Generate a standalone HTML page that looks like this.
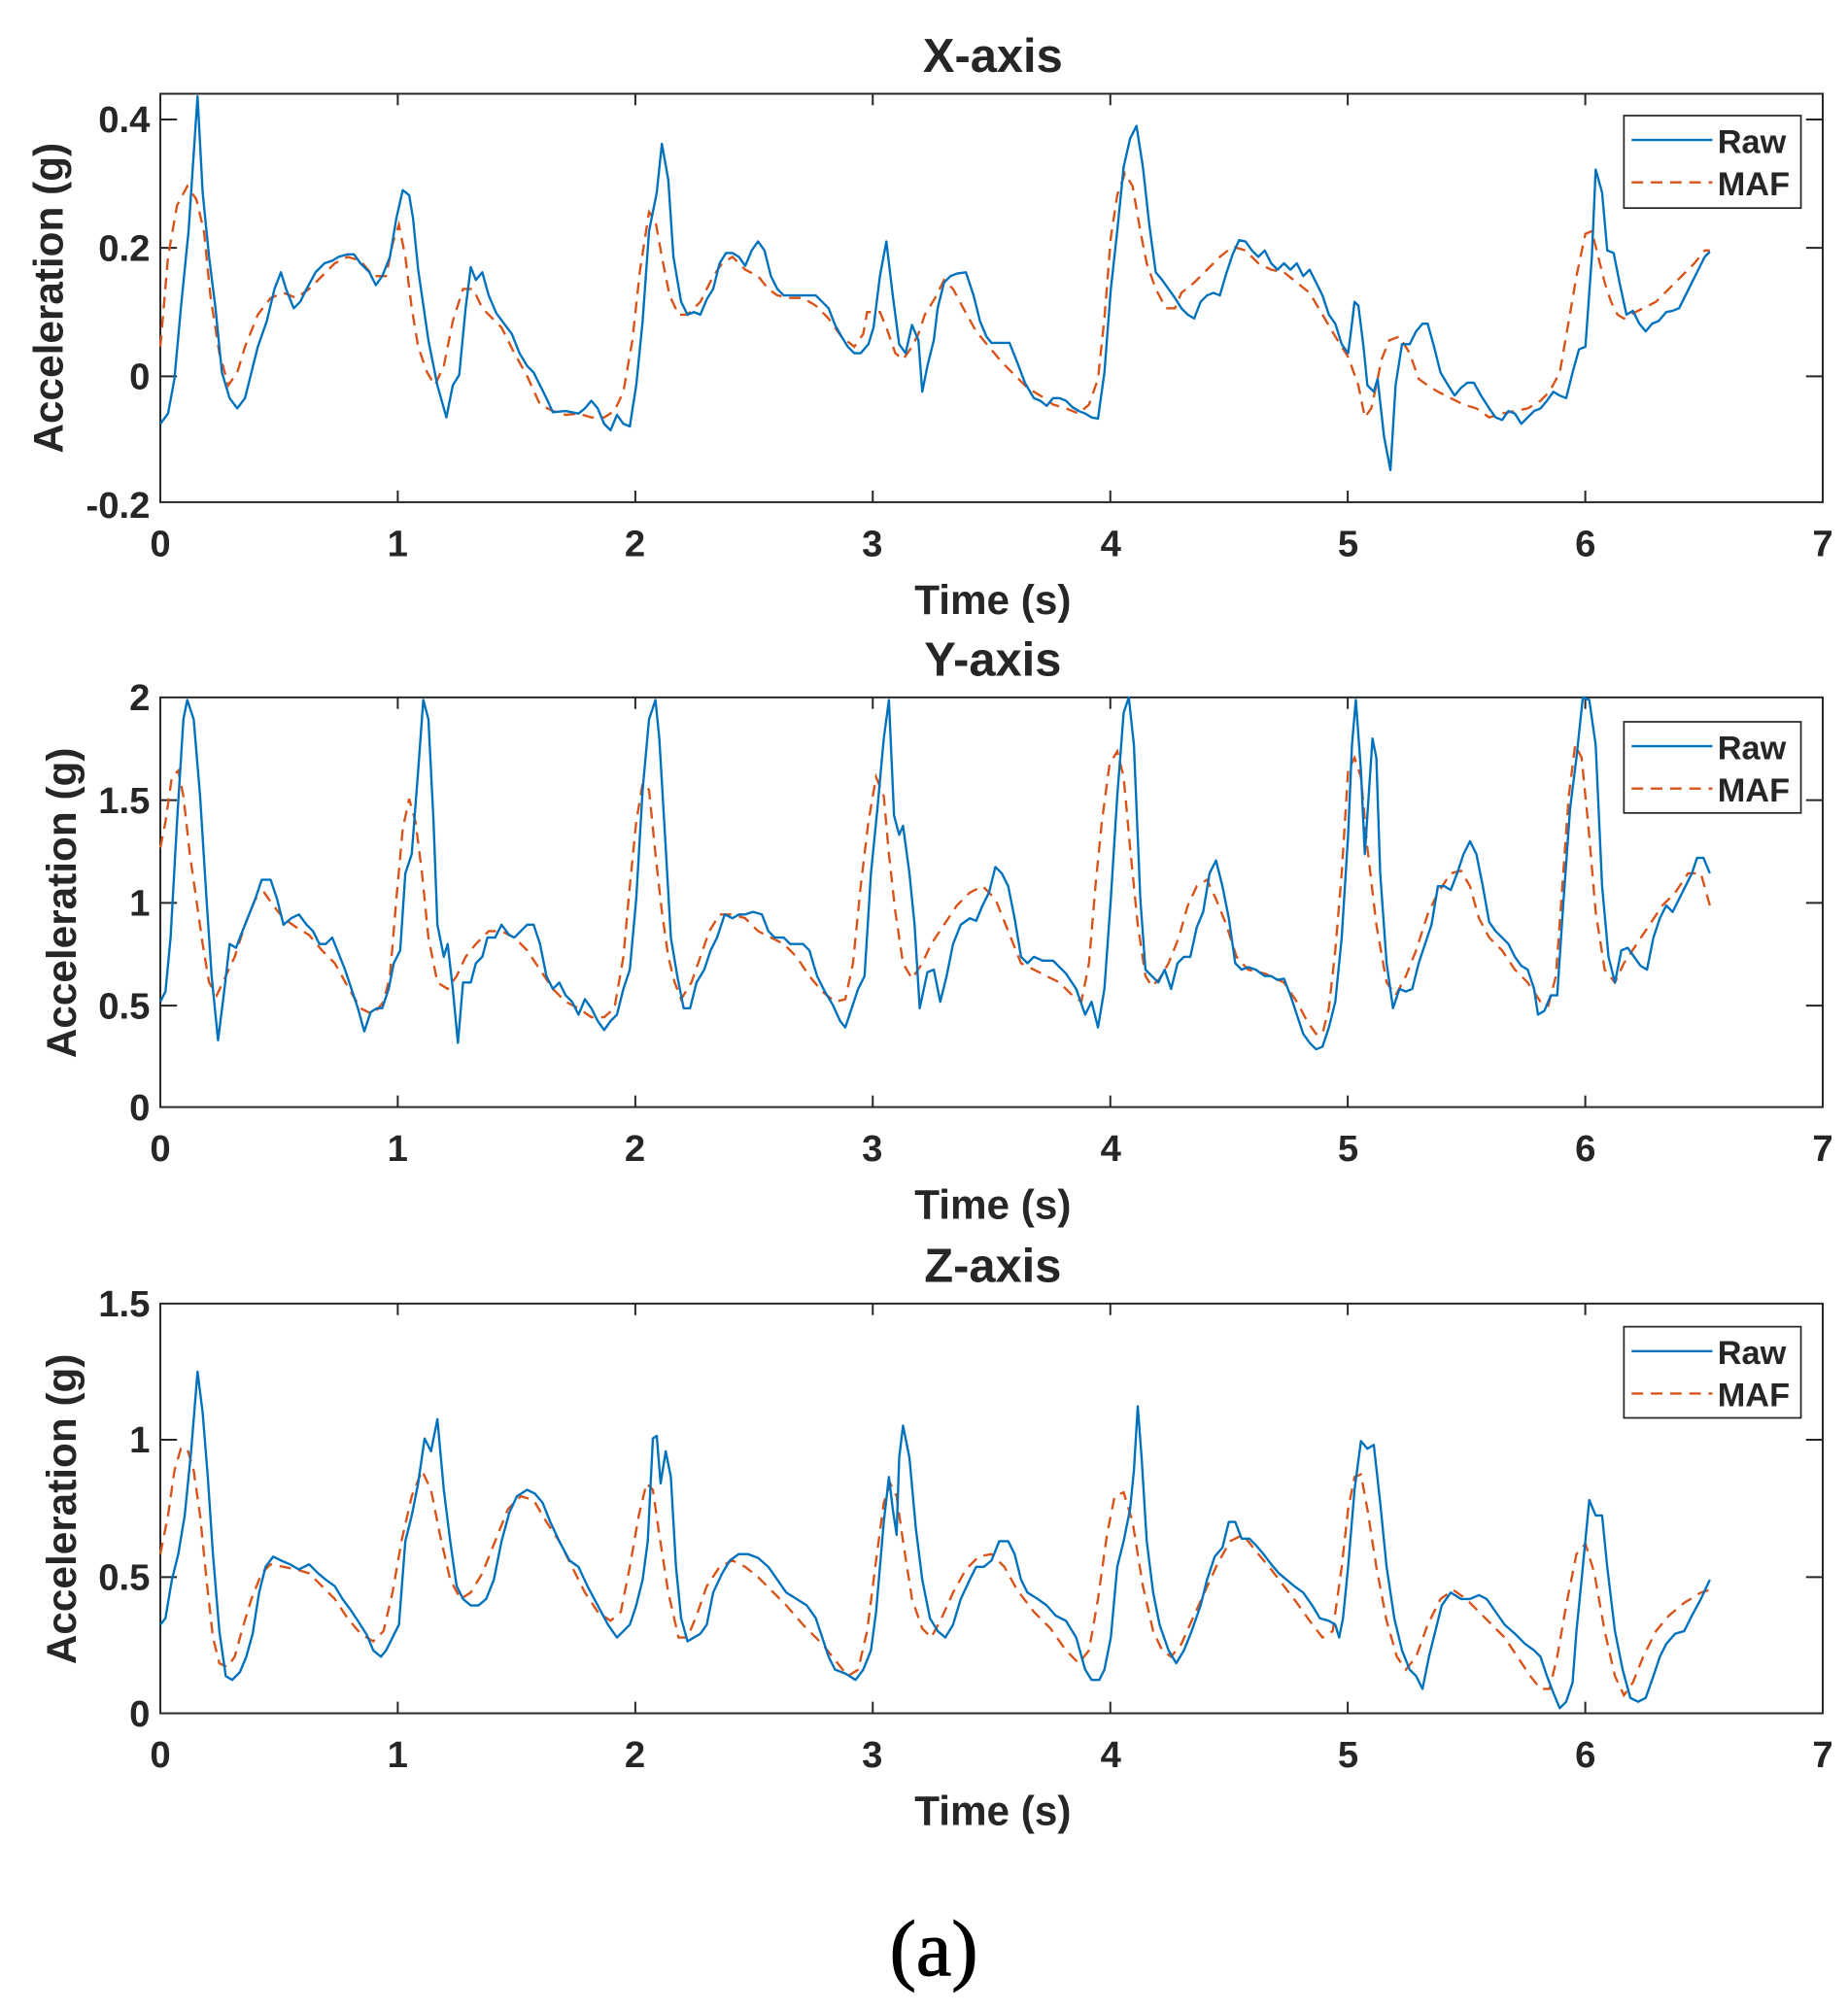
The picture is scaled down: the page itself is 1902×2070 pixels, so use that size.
<!DOCTYPE html>
<html><head><meta charset="utf-8"><style>
html,body{margin:0;padding:0;background:#fff;}
svg{display:block;}
text{font-family:"Liberation Sans",Arial,sans-serif;font-weight:bold;fill:#262626;}
.ax{fill:none;stroke:#262626;stroke-width:1.5;}
.raw{fill:none;stroke:#0072BD;stroke-width:1.8;stroke-linejoin:round;}
.maf{fill:none;stroke:#D95319;stroke-width:1.8;stroke-dasharray:9,6;}
.tk{font-size:29px;}
.ttl{font-size:37px;}
.lab{font-size:32px;}
.leg{font-size:26px;}
</style></head><body>
<svg width="1902" height="2070" viewBox="-1 0 1440.7 1565.8" preserveAspectRatio="none" xmlns="http://www.w3.org/2000/svg">

<!-- ========== X panel ========== -->
<text class="ttl" x="773" y="56" text-anchor="middle">X-axis</text>
<rect class="ax" x="124" y="73" width="1296" height="318"/>
<path class="ax" d="M309.1,391v-9M494.3,391v-9M679.4,391v-9M864.6,391v-9M1049.7,391v-9M1234.9,391v-9M309.1,73v9M494.3,73v9M679.4,73v9M864.6,73v9M1049.7,73v9M1234.9,73v9M124,93h13M124,193h13M124,293h13M1420,93h-13M1420,193h-13M1420,293h-13"/>
<g class="tk" text-anchor="end"><text x="116" y="103">0.4</text><text x="116" y="203">0.2</text><text x="116" y="303">0</text><text x="116" y="403">-0.2</text></g>
<g class="tk" text-anchor="middle"><text x="124" y="433">0</text><text x="309" y="433">1</text><text x="494" y="433">2</text><text x="679" y="433">3</text><text x="865" y="433">4</text><text x="1050" y="433">5</text><text x="1235" y="433">6</text><text x="1420" y="433">7</text></g>
<text class="lab" x="773" y="478" text-anchor="middle">Time (s)</text>
<text class="lab" transform="translate(48,232) rotate(-90)" text-anchor="middle">Acceleration (g)</text>
<polyline class="maf" points="124,270 130,200 137,160 145,145 152,155 158,180 163,230 170,275 177,300 184,290 190,270 200,245 210,232 220,228 230,232 240,225 250,215 260,205 270,200 280,203 290,215 300,215 305,190 310,175 315,200 320,240 325,270 332,290 338,300 345,285 352,250 360,225 368,225 375,240 390,255 400,275 410,293 420,315 430,320 440,323 450,322 460,325 470,325 478,320 485,305 492,265 498,210 505,165 510,172 515,200 521,230 528,245 535,245 545,235 555,215 562,205 570,200 580,210 590,215 598,225 605,230 615,232 625,232 635,238 645,248 655,262 665,270 672,260 675,243 685,243 690,255 697,275 703,280 710,270 715,260 720,245 728,232 735,218 742,225 750,240 760,258 770,270 780,282 790,292 800,302 810,308 820,315 830,318 840,322 848,315 855,295 860,248 865,185 870,152 876,135 882,145 888,180 893,205 900,225 908,240 915,240 920,228 930,220 940,210 950,200 960,192 970,195 980,205 990,210 1000,212 1010,220 1020,228 1030,245 1040,262 1050,278 1058,300 1063,325 1068,318 1072,300 1076,280 1082,265 1090,262 1098,275 1105,295 1112,300 1120,305 1130,310 1140,315 1150,318 1160,325 1170,322 1180,320 1190,318 1200,312 1207,305 1215,290 1222,250 1228,215 1235,182 1240,180 1245,200 1250,220 1255,235 1260,245 1265,248 1270,245 1280,240 1290,235 1300,225 1310,215 1320,205 1328,195 1332,195"/>
<polyline class="raw" points="124,330 130,322 135,295 140,240 146,180 150,120 153,75 157,150 162,200 167,240 172,290 178,310 184,318 190,310 195,290 200,270 207,250 213,225 218,212 222,225 228,240 233,235 238,225 245,212 252,205 258,203 263,200 270,198 275,198 280,205 287,212 292,222 297,215 303,200 308,170 313,148 318,152 321,170 325,210 333,265 340,300 347,325 352,300 357,292 362,240 366,208 370,218 375,212 380,230 386,244 392,252 398,260 404,275 410,285 415,290 420,300 425,310 430,321 440,320 450,322 455,318 460,312 465,318 470,330 475,335 480,323 485,330 490,332 495,300 500,250 505,180 511,150 515,112 520,140 524,200 530,235 535,245 540,243 545,245 550,233 555,225 560,205 565,197 570,197 575,200 580,207 585,195 590,188 595,195 600,215 605,225 610,230 620,230 630,230 635,230 645,240 650,253 655,262 660,270 665,275 670,275 676,268 680,255 685,215 690,188 695,230 700,268 705,275 710,253 715,265 718,305 722,285 727,265 730,240 735,220 740,215 745,213 752,212 758,230 763,250 768,262 772,267 780,267 786,267 792,282 798,298 805,310 810,312 815,316 820,310 825,310 830,312 835,317 840,320 845,322 850,325 855,326 860,290 865,225 870,180 875,130 880,108 885,98 890,130 895,175 900,212 905,218 910,225 915,232 920,240 925,245 930,248 935,235 940,230 945,228 950,230 955,213 960,198 965,187 970,188 975,195 980,200 985,195 990,205 995,210 1000,205 1005,210 1010,205 1015,215 1020,210 1025,220 1030,230 1035,245 1040,252 1045,268 1050,275 1052,260 1055,235 1058,238 1062,270 1065,300 1070,305 1073,295 1078,340 1083,366 1087,300 1092,268 1098,268 1103,258 1108,252 1112,252 1117,270 1122,290 1128,300 1133,308 1138,302 1143,298 1148,298 1153,307 1160,318 1165,325 1170,327 1175,320 1180,322 1185,330 1190,325 1195,320 1200,318 1205,312 1210,305 1215,308 1220,310 1225,290 1230,272 1235,270 1240,200 1243,132 1248,150 1252,195 1257,197 1262,222 1267,245 1272,242 1277,252 1282,258 1287,252 1292,250 1298,243 1303,242 1308,240 1313,230 1318,220 1323,210 1328,200 1332,196"/>
<g>
<rect x="1265" y="90" width="138" height="72" fill="#fff" stroke="#262626" stroke-width="1.3"/>
<line x1="1271" y1="109" x2="1334" y2="109" stroke="#0072BD" stroke-width="1.8"/>
<line x1="1271" y1="142" x2="1334" y2="142" stroke="#D95319" stroke-width="1.8" stroke-dasharray="9,6"/>
<text class="leg" x="1338" y="119">Raw</text><text class="leg" x="1338" y="152">MAF</text>
</g>

<!-- ========== Y panel ========== -->
<text class="ttl" x="773" y="526" text-anchor="middle">Y-axis</text>
<rect class="ax" x="124" y="543" width="1296" height="319"/>
<path class="ax" d="M309.1,862v-9M494.3,862v-9M679.4,862v-9M864.6,862v-9M1049.7,862v-9M1234.9,862v-9M309.1,543v9M494.3,543v9M679.4,543v9M864.6,543v9M1049.7,543v9M1234.9,543v9M124,623h13M124,703h13M124,783h13M1420,623h-13M1420,703h-13M1420,783h-13"/>
<g class="tk" text-anchor="end"><text x="116" y="553">2</text><text x="116" y="633">1.5</text><text x="116" y="713">1</text><text x="116" y="793">0.5</text><text x="116" y="872">0</text></g>
<g class="tk" text-anchor="middle"><text x="124" y="904">0</text><text x="309" y="904">1</text><text x="494" y="904">2</text><text x="679" y="904">3</text><text x="865" y="904">4</text><text x="1050" y="904">5</text><text x="1235" y="904">6</text><text x="1420" y="904">7</text></g>
<text class="lab" x="773" y="949" text-anchor="middle">Time (s)</text>
<text class="lab" transform="translate(58,703) rotate(-90)" text-anchor="middle">Acceleration (g)</text>
<polyline class="maf" points="124,660 128,640 133,605 138,600 142,620 147,665 152,700 157,735 162,765 168,775 175,760 182,745 190,720 198,700 205,695 212,705 220,715 230,722 240,728 250,740 260,750 270,768 280,785 290,790 298,780 303,760 308,700 313,645 318,622 323,640 328,680 333,730 340,765 348,770 355,760 362,745 370,735 380,725 390,725 400,730 410,740 420,755 430,770 440,780 450,785 460,792 470,792 478,785 485,745 490,690 495,640 500,610 505,615 510,665 515,710 520,745 525,765 530,778 538,765 545,745 552,725 560,712 570,712 580,715 590,725 600,730 610,735 620,745 630,760 640,772 650,780 658,778 664,750 670,690 676,640 682,605 688,620 692,665 697,710 703,750 710,762 718,750 725,735 735,720 745,705 755,695 765,690 775,700 785,725 795,750 805,755 815,760 825,765 835,775 842,780 848,750 853,690 858,640 864,595 870,585 875,605 880,660 886,720 892,760 897,768 903,762 910,750 918,730 925,705 932,690 940,685 947,700 955,720 963,745 972,755 985,758 1000,765 1010,780 1018,795 1025,805 1030,805 1035,785 1040,740 1045,680 1050,600 1055,590 1060,605 1065,660 1072,720 1080,765 1087,775 1095,760 1103,740 1112,712 1120,695 1130,680 1138,678 1145,690 1152,715 1160,730 1170,740 1180,755 1190,765 1200,780 1206,783 1212,760 1217,690 1222,620 1227,580 1232,590 1237,640 1243,710 1250,755 1258,765 1265,750 1275,735 1285,720 1295,705 1305,695 1315,680 1325,680 1332,705"/>
<polyline class="raw" points="124,780 128,772 132,730 137,640 142,560 145,545 150,560 155,620 160,700 164,760 169,810 174,770 178,735 183,738 188,725 194,710 198,700 203,685 210,685 215,700 220,720 226,715 232,712 238,720 243,725 248,735 253,735 258,730 262,740 268,755 273,770 278,785 283,803 288,788 293,785 297,785 302,770 306,750 311,740 315,680 320,665 325,600 329,545 333,560 337,640 340,720 345,745 348,735 352,770 356,812 360,765 366,765 370,750 375,745 379,730 385,730 390,720 396,728 400,730 405,725 410,720 415,720 420,735 425,760 430,770 435,765 440,775 445,780 450,790 455,778 460,785 465,795 470,802 475,795 480,790 485,770 490,755 495,700 500,615 505,560 510,545 513,575 518,660 522,730 527,760 532,785 537,785 542,765 548,755 553,740 558,730 564,712 570,715 575,712 580,712 586,710 593,712 598,725 603,730 610,730 615,735 625,735 630,740 636,760 642,772 648,782 654,795 658,800 663,785 668,770 673,760 678,680 683,630 688,575 692,545 696,635 700,650 703,643 708,680 712,720 716,785 722,757 727,755 732,780 737,760 742,735 748,720 755,715 760,717 765,705 770,695 775,675 780,680 785,690 790,715 795,745 800,750 805,745 812,748 820,748 830,758 838,770 845,790 850,780 855,800 860,770 865,700 870,620 875,555 879,543 883,580 888,700 892,755 897,760 902,765 907,755 912,770 917,750 922,745 927,745 932,722 937,710 942,680 947,670 952,690 957,715 962,750 967,755 972,753 978,755 985,760 990,760 995,763 1000,762 1005,775 1010,790 1015,805 1020,812 1025,817 1030,815 1035,800 1040,780 1045,730 1050,650 1053,580 1056,545 1060,600 1063,665 1066,620 1069,575 1072,590 1075,680 1080,750 1085,785 1090,770 1095,772 1100,770 1105,750 1110,735 1115,720 1120,690 1125,690 1130,693 1135,680 1140,665 1145,655 1150,665 1155,690 1160,718 1165,725 1170,730 1175,735 1180,745 1185,752 1190,755 1195,770 1198,790 1203,787 1208,775 1213,775 1218,700 1223,630 1228,590 1233,543 1238,545 1243,580 1248,690 1253,745 1258,765 1263,740 1268,738 1273,745 1278,752 1283,755 1288,730 1293,715 1298,705 1303,710 1308,700 1313,690 1318,680 1322,668 1327,668 1332,680"/>
<g transform="translate(0,472)">
<rect x="1265" y="90" width="138" height="71" fill="#fff" stroke="#262626" stroke-width="1.3"/>
<line x1="1271" y1="109" x2="1334" y2="109" stroke="#0072BD" stroke-width="1.8"/>
<line x1="1271" y1="142" x2="1334" y2="142" stroke="#D95319" stroke-width="1.8" stroke-dasharray="9,6"/>
<text class="leg" x="1338" y="119">Raw</text><text class="leg" x="1338" y="152">MAF</text>
</g>

<!-- ========== Z panel ========== -->
<text class="ttl" x="773" y="998" text-anchor="middle">Z-axis</text>
<rect class="ax" x="124" y="1015" width="1296" height="319"/>
<path class="ax" d="M309.1,1334v-9M494.3,1334v-9M679.4,1334v-9M864.6,1334v-9M1049.7,1334v-9M1234.9,1334v-9M309.1,1015v9M494.3,1015v9M679.4,1015v9M864.6,1015v9M1049.7,1015v9M1234.9,1015v9M124,1121h13M124,1228h13M1420,1121h-13M1420,1228h-13"/>
<g class="tk" text-anchor="end"><text x="116" y="1025">1.5</text><text x="116" y="1131">1</text><text x="116" y="1238">0.5</text><text x="116" y="1344">0</text></g>
<g class="tk" text-anchor="middle"><text x="124" y="1376">0</text><text x="309" y="1376">1</text><text x="494" y="1376">2</text><text x="679" y="1376">3</text><text x="865" y="1376">4</text><text x="1050" y="1376">5</text><text x="1235" y="1376">6</text><text x="1420" y="1376">7</text></g>
<text class="lab" x="773" y="1421" text-anchor="middle">Time (s)</text>
<text class="lab" transform="translate(58,1175) rotate(-90)" text-anchor="middle">Acceleration (g)</text>
<polyline class="maf" points="124,1210 130,1180 135,1145 140,1128 145,1128 150,1145 155,1180 160,1230 165,1275 170,1295 176,1298 182,1290 188,1268 195,1245 203,1225 210,1218 220,1220 230,1222 240,1225 250,1235 260,1245 270,1260 280,1272 290,1278 298,1270 305,1240 312,1200 320,1165 328,1145 335,1160 342,1195 350,1230 358,1245 366,1240 375,1225 385,1200 395,1175 405,1165 415,1168 425,1185 435,1200 445,1220 455,1240 465,1255 475,1262 483,1255 490,1220 497,1180 503,1155 508,1160 513,1195 520,1240 528,1275 535,1275 542,1258 550,1235 560,1220 570,1215 580,1220 590,1228 600,1238 612,1250 625,1265 640,1280 652,1295 660,1305 668,1300 675,1270 682,1215 688,1170 693,1155 698,1165 703,1200 710,1245 718,1268 725,1275 733,1260 742,1240 752,1222 762,1212 772,1210 782,1220 792,1238 805,1255 818,1268 830,1285 840,1295 848,1285 855,1245 862,1195 868,1165 875,1162 882,1185 890,1235 898,1270 905,1285 912,1290 920,1280 928,1262 938,1240 948,1218 958,1200 968,1195 980,1210 990,1222 1000,1235 1010,1248 1020,1262 1030,1275 1038,1270 1045,1220 1050,1175 1055,1150 1060,1148 1065,1175 1072,1220 1080,1262 1088,1290 1095,1300 1103,1290 1112,1265 1122,1245 1132,1238 1142,1245 1152,1255 1162,1265 1172,1275 1182,1290 1192,1305 1200,1315 1207,1315 1213,1290 1220,1250 1228,1210 1235,1202 1242,1225 1250,1270 1258,1305 1265,1320 1272,1310 1280,1290 1290,1270 1300,1258 1312,1248 1325,1240 1332,1238"/>
<polyline class="raw" points="124,1265 128,1260 133,1230 138,1210 143,1180 148,1130 153,1068 157,1100 161,1150 165,1210 170,1270 175,1305 180,1308 186,1302 191,1290 196,1272 201,1240 206,1220 212,1212 218,1215 225,1218 232,1222 240,1218 247,1225 253,1230 260,1235 266,1245 272,1253 278,1262 285,1273 290,1285 296,1290 300,1285 305,1275 310,1265 315,1200 320,1180 325,1155 330,1120 335,1130 340,1105 345,1160 350,1200 355,1235 360,1245 366,1250 372,1250 378,1245 384,1230 390,1200 396,1178 402,1165 410,1160 416,1163 422,1170 428,1185 435,1200 443,1215 450,1220 457,1235 465,1250 473,1265 480,1275 485,1270 490,1265 495,1250 500,1230 504,1200 508,1120 511,1118 514,1155 518,1130 522,1150 526,1220 530,1260 535,1278 540,1275 545,1272 550,1265 555,1240 562,1225 568,1215 575,1210 582,1210 590,1213 598,1220 605,1230 612,1240 620,1245 628,1250 635,1260 640,1275 645,1290 650,1300 658,1303 666,1308 672,1300 678,1285 682,1255 688,1185 692,1150 695,1175 698,1195 700,1135 703,1110 708,1135 713,1190 718,1230 724,1260 730,1270 736,1275 742,1265 748,1245 755,1230 760,1220 766,1220 772,1215 778,1200 785,1200 790,1210 795,1230 800,1240 808,1245 815,1250 822,1258 830,1262 838,1275 845,1300 850,1308 856,1308 860,1300 865,1275 870,1220 875,1200 880,1175 883,1145 886,1095 889,1135 893,1200 898,1240 903,1265 910,1285 916,1295 922,1285 928,1270 935,1250 940,1230 946,1212 952,1205 957,1185 962,1185 967,1198 973,1198 978,1203 984,1210 990,1218 996,1225 1002,1230 1008,1235 1015,1240 1022,1250 1028,1260 1035,1262 1040,1265 1043,1275 1046,1260 1050,1220 1055,1160 1060,1122 1065,1128 1070,1125 1075,1170 1080,1220 1086,1260 1092,1285 1098,1300 1103,1305 1108,1315 1113,1290 1118,1270 1123,1250 1130,1240 1138,1245 1145,1245 1152,1242 1158,1245 1165,1255 1172,1265 1180,1272 1188,1280 1195,1285 1200,1290 1205,1305 1210,1318 1215,1330 1220,1325 1225,1310 1228,1270 1232,1230 1238,1168 1243,1180 1248,1180 1252,1220 1258,1270 1264,1300 1270,1322 1276,1325 1282,1322 1288,1305 1293,1290 1298,1280 1305,1272 1312,1270 1318,1258 1325,1245 1332,1230"/>
<g transform="translate(0,943)">
<rect x="1265" y="90" width="138" height="71" fill="#fff" stroke="#262626" stroke-width="1.3"/>
<line x1="1271" y1="109" x2="1334" y2="109" stroke="#0072BD" stroke-width="1.8"/>
<line x1="1271" y1="142" x2="1334" y2="142" stroke="#D95319" stroke-width="1.8" stroke-dasharray="9,6"/>
<text class="leg" x="1338" y="119">Raw</text><text class="leg" x="1338" y="152">MAF</text>
</g>

<text x="727" y="1538" text-anchor="middle" style="font-family:'Liberation Serif','Times New Roman',serif;font-weight:normal;font-size:62px;fill:#000;stroke:#000;stroke-width:0.8">(a)</text>
</svg>
</body></html>
